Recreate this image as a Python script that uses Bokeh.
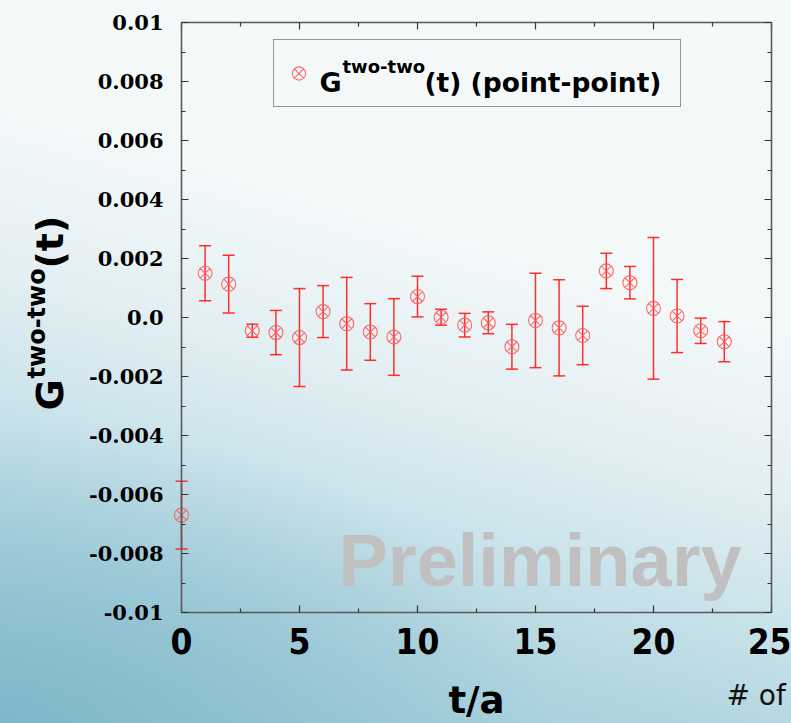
import math
from bokeh.plotting import figure
from bokeh.models import (Range1d, FixedTicker, LinearAxis, ColumnDataSource, Whisker,
                          TeeHead, Label, Legend, LegendItem)
from bokeh.embed import file_html
from bokeh.resources import INLINE

# ---------------- data ----------------
t_vals = list(range(24))
g_vals = [-0.0067, 0.0015, 0.00113, -0.00045, -0.00051, -0.00068, 0.0002, -0.00021,
          -0.00049, -0.00066, 0.00071, 0.00001, -0.00026, -0.00018, -0.00099, -0.0001,
          -0.00035, -0.00061, 0.00158, 0.00118, 0.00031, 0.00005, -0.00045, -0.00082]
g_err = [0.00115, 0.00093, 0.00098, 0.00022, 0.00075, 0.00166, 0.00088, 0.00157,
         0.00096, 0.0013, 0.00069, 0.00027, 0.0004, 0.00037, 0.00076, 0.0016,
         0.00163, 0.00099, 0.0006, 0.00055, 0.0024, 0.00124, 0.00043, 0.00068]

x_ticks = [0, 5, 10, 15, 20, 25]
x_minor = [2.5, 7.5, 12.5, 17.5, 22.5]
y_ticks = [-0.01, -0.008, -0.006, -0.004, -0.002, 0.0, 0.002, 0.004, 0.006, 0.008, 0.01]
y_tick_labels = ["-0.01", "-0.008", "-0.006", "-0.004", "-0.002", "0.0",
                 "0.002", "0.004", "0.006", "0.008", "0.01"]
y_minor = [-0.009, -0.007, -0.005, -0.003, -0.001, 0.001, 0.003, 0.005, 0.007, 0.009]

x_label = "t/a"
y_label_main = "G"
y_label_sup = "two-two"
y_label_tail = "(t)"
legend_tail = "(t) (point-point)"
watermark = "Preliminary"
corner_text = "# of"

# ---------------- layout ----------------
W, H = 791, 723
FL, FR, FT, FB = 181, 20, 22, 111          # data box inside the canvas (pixels)
FW, FH = W - FL - FR, H - FT - FB
X0, X1 = 0, 25
Y0, Y1 = -0.01, 0.01
MID = 0.35  # baseline-to-middle offset, in em


def dx(px):
    return X0 + (px - FL) / FW * (X1 - X0)


def dy(py):
    return Y1 - (py - FT) / FH * (Y1 - Y0)


upper = [g + e for g, e in zip(g_vals, g_err)]
lower = [g - e for g, e in zip(g_vals, g_err)]
src = ColumnDataSource(dict(t=t_vals, g=g_vals, upper=upper, lower=lower))

# the frame covers the whole canvas; axes are pinned to the data box edges
p = figure(width=W, height=H, x_range=Range1d(dx(0), dx(W)), y_range=Range1d(dy(H), dy(0)),
           output_backend="svg", toolbar_location=None,
           x_axis_location=None, y_axis_location=None, min_border=0)
p.grid.visible = False
p.background_fill_color = None
p.border_fill_color = None
p.outline_line_color = None
p.styles = {
    "background": "radial-gradient(ellipse 70% 42% at 0% 100%, rgba(112,174,196,0.6), rgba(112,174,196,0) 100%), "
                  "linear-gradient(196deg, #f6f9fa 0%, #f3f8f9 36%, #e3eff3 52%, #cce4eb 65%, #b0d5df 79%, #93c5d3 100%)"
}

xt = FixedTicker(ticks=x_ticks, minor_ticks=x_minor)
yt = FixedTicker(ticks=y_ticks, minor_ticks=y_minor)


def style_axis(ax, labels):
    ax.axis_line_color = "#5a5a5a"
    ax.axis_line_width = 1.6
    ax.major_tick_in = 7
    ax.major_tick_out = 0
    ax.minor_tick_in = 4
    ax.minor_tick_out = 0
    ax.major_tick_line_color = "#333333"
    ax.minor_tick_line_color = "#333333"
    ax.major_tick_line_width = 1.2
    ax.minor_tick_line_width = 1.2
    if not labels:
        ax.major_label_text_font_size = "0px"
        ax.major_label_text_alpha = 0


xb = LinearAxis(ticker=xt, fixed_location=Y0, bounds=(X0, X1))
style_axis(xb, True)
xb.major_label_text_font = "'Liberation Sans Narrow', 'DejaVu Sans Condensed', sans-serif"
xb.major_label_text_font_style = "bold"
xb.major_label_text_font_size = "35px"
xb.major_label_text_color = "#000000"
xb.major_label_standoff = 15
xb.axis_label = x_label
xb.axis_label_text_font = "DejaVu Sans"
xb.axis_label_text_font_style = "bold"
xb.axis_label_text_font_size = "37px"
xb.axis_label_text_color = "#000000"
xb.axis_label_standoff = 22
p.add_layout(xb, "below")

yl = LinearAxis(ticker=yt, fixed_location=X0, bounds=(Y0, Y1))
style_axis(yl, True)
yl.major_label_overrides = {v: s for v, s in zip(y_ticks, y_tick_labels)}
yl.major_label_text_font = "DejaVu Serif"
yl.major_label_text_font_style = "bold"
yl.major_label_text_font_size = "21px"
yl.major_label_text_color = "#000000"
yl.major_label_standoff = 18
p.add_layout(yl, "left")

xa = LinearAxis(ticker=xt, fixed_location=Y1, bounds=(X0, X1))
style_axis(xa, False)
p.add_layout(xa, "above")
yr = LinearAxis(ticker=yt, fixed_location=X1, bounds=(Y0, Y1))
style_axis(yr, False)
p.add_layout(yr, "right")

# error bars and points
wh = Whisker(source=src, base="t", upper="upper", lower="lower",
             line_color="#ff1a1a", line_width=1.5, line_alpha=0.9,
             upper_head=TeeHead(size=12, line_color="#ff1a1a", line_width=1.5, line_alpha=0.9),
             lower_head=TeeHead(size=12, line_color="#ff1a1a", line_width=1.5, line_alpha=0.9))
p.add_layout(wh)
sc = p.scatter(x="t", y="g", source=src, marker="circle_x", size=14,
               fill_color=None, line_color="#ff5050", line_width=1.1, line_alpha=0.85)

# legend (box + swatch); its text is drawn as labels for the superscript
leg = Legend(items=[LegendItem(label=" ", renderers=[sc])], location=(273, H - 107),
             padding=8, margin=0, glyph_width=33, glyph_height=50, label_height=50,
             label_width=352, label_standoff=5, border_line_color="#333333",
             border_line_width=1, background_fill_color="white", background_fill_alpha=0.0,
             label_text_font_size="2px")
p.add_layout(leg)


def add_text(px, py, text, size, font="DejaVu Sans", style="bold", color="black", angle=0.0):
    # px, py: pixel position of the text's start on its baseline
    off = MID * size
    if angle:
        ax_, ay_ = px - off, py
    else:
        ax_, ay_ = px, py - off
    p.add_layout(Label(x=dx(ax_), y=dy(ay_), text=text, angle=angle, text_font=font,
                       text_font_style=style, text_font_size=f"{size}px", text_color=color,
                       text_align="left", text_baseline="middle"))


# legend text
add_text(319, 91, y_label_main, 27)
add_text(342, 72, y_label_sup, 18)
add_text(424, 91, legend_tail, 26.5)

# rotated y-axis label
ang = math.pi / 2
add_text(63, 410, y_label_main, 38, angle=ang)
add_text(45, 378, y_label_sup, 24, angle=ang)
add_text(63, 268, y_label_tail, 38, angle=ang)

# watermark
add_text(338, 586, watermark, 74, font="Liberation Sans", color="#c0c0c0")

# slide text at bottom right
add_text(726, 705, corner_text, 28, font="DejaVu Sans", style="normal", color="#111111")

open("out.html", "w").write(file_html(p, INLINE))
